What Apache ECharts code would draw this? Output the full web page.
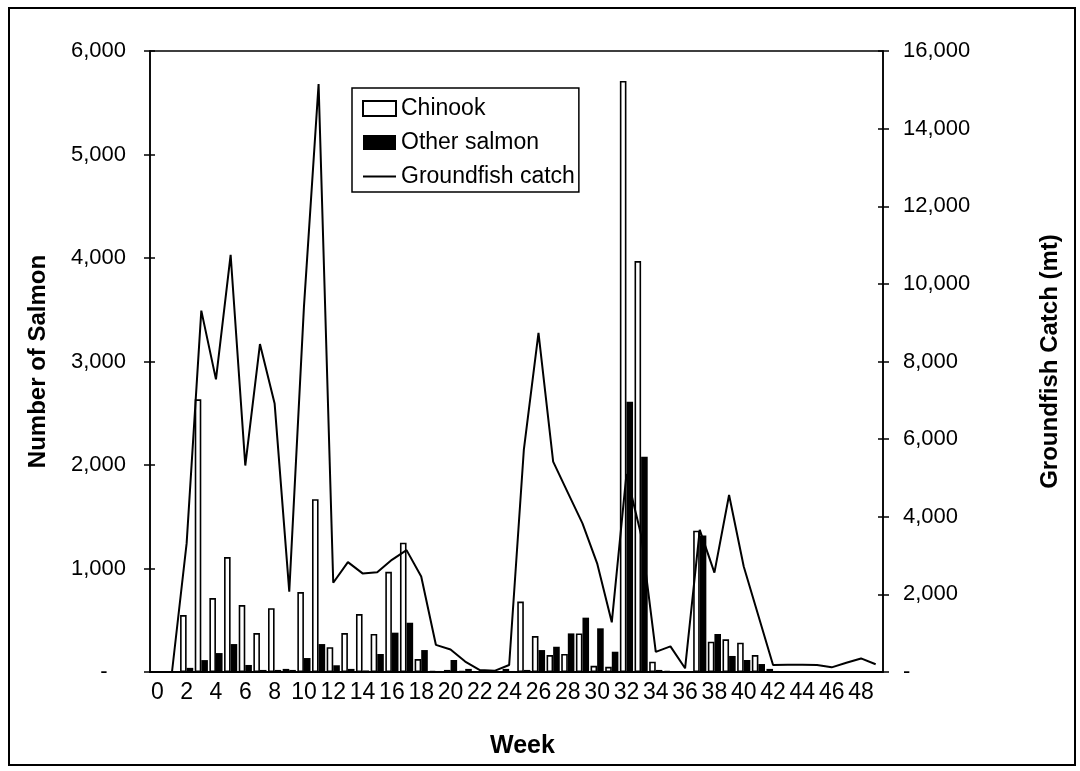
<!DOCTYPE html>
<html>
<head>
<meta charset="utf-8">
<script src="https://cdn.jsdelivr.net/npm/echarts@6/dist/echarts.min.js"></script>
<style>
  html, body { margin: 0; padding: 0; background: #fff; }
  #chart { width: 1080px; height: 771px; }
</style>
</head>
<body>
<div id="chart"></div>
<script>
// weeks on the x axis
const weeks = ['0','1','2','3','4','5','6','7','8','9','10','11','12','13','14','15','16','17','18','19',
  '20','21','22','23','24','25','26','27','28','29','30','31','32','33','34','35','36','37','38','39',
  '40','41','42','43','44','45','46','47','48','49'];

// number of salmon (left axis)
const chinook = [0, 0, 550, 2635, 714, 1110, 647, 376, 617, 30,
  772, 1670, 240, 376, 560, 367, 968, 1249, 125, 10,
  20, 10, 0, 0, 30, 680, 347, 164, 174, 373,
  60, 50, 5710, 3970, 100, 10, 5, 1365, 293, 316,
  283, 164, 30, 0, 0, 0, 0, 0, 0, 0];
const otherSalmon = [0, 0, 40, 115, 183, 270, 68, 20, 20, 20,
  135, 270, 65, 30, 15, 174, 380, 476, 212, 10,
  116, 30, 5, 0, 10, 20, 212, 244, 373, 525,
  422, 196, 2610, 2080, 20, 5, 0, 1320, 367, 155,
  116, 77, 10, 0, 0, 0, 0, 0, 0, 0];

// groundfish catch in mt (right axis)
const groundfish = [null, 0, 3320, 9310, 7540, 10750, 5320, 8450, 6920, 2070,
  9400, 15150, 2300, 2830, 2540, 2570, 2890, 3140, 2460, 700,
  580, 270, 50, 30, 180, 5720, 8740, 5420, 4620, 3830,
  2800, 1280, 5100, 3530, 520, 660, 95, 3660, 2560, 4560,
  2720, 1450, 180, 190, 190, 180, 120, 240, 350, 200];

const font = '"Liberation Sans", Arial, Helvetica, sans-serif';

function fmt(v) {
  return v === 0 ? '-' : v.toLocaleString('en-US');
}

let myChart = echarts.init(document.getElementById('chart'));
let option = {
  backgroundColor: '#fff',
  animation: false,
  textStyle: { fontFamily: font, color: '#000' },
  graphic: [
    { // outer frame round the figure
      type: 'rect',
      shape: { x: 9, y: 8, width: 1066, height: 757 },
      style: { fill: 'none', stroke: '#000', lineWidth: 2 }
    }
  ],
  grid: {
    left: 150, right: 197, top: 51, bottom: 99,
    show: true, borderColor: '#000', borderWidth: 1.5, backgroundColor: 'transparent'
  },
  legend: {
    orient: 'vertical',
    left: 352, top: 88,
    padding: [9, 4, 4, 10],
    itemGap: 11,
    itemWidth: 33, itemHeight: 15,
    borderColor: '#000', borderWidth: 1.5,
    selectedMode: false,
    textStyle: { fontSize: 23, fontFamily: font, color: '#000' },
    data: [
      { name: 'Chinook', icon: 'rect' },
      { name: 'Other salmon', icon: 'rect' },
      { name: 'Groundfish catch', icon: 'path://M0,0 L34,0 L34,2 L0,2 Z' }
    ]
  },
  xAxis: {
    type: 'category',
    data: weeks,
    name: 'Week',
    nameLocation: 'middle',
    nameGap: 62,
    nameTextStyle: { fontSize: 25, fontWeight: 'bold', color: '#000', padding: [0, 0, 0, 12] },
    axisLine: { lineStyle: { color: '#000', width: 2 } },
    axisTick: { interval: 0, length: 5, lineStyle: { color: '#000' } },
    axisLabel: { interval: 1, fontSize: 23, color: '#000', margin: 9 },
    splitLine: { show: false }
  },
  yAxis: [
    {
      type: 'value', position: 'left', min: 0, max: 6000, interval: 1000,
      name: 'Number of Salmon', nameLocation: 'middle', nameGap: 100, nameRotate: 90,
      nameTextStyle: { fontSize: 24, fontWeight: 'bold', color: '#000' },
      axisLine: { show: true, lineStyle: { color: '#000', width: 1.5 } },
      axisTick: { show: true, length: 6, lineStyle: { color: '#000', width: 1.5 } },
      axisLabel: {
        fontSize: 22, color: '#000', margin: 24,
        formatter: v => v === 0 ? '-   ' : fmt(v)
      },
      splitLine: { show: false }
    },
    {
      type: 'value', position: 'right', min: 0, max: 16000, interval: 2000,
      name: 'Groundfish Catch (mt)', nameLocation: 'middle', nameGap: 155, nameRotate: 90,
      nameTextStyle: { fontSize: 24, fontWeight: 'bold', color: '#000' },
      axisLine: { show: true, lineStyle: { color: '#000', width: 1.5 } },
      axisTick: { show: true, length: 6, lineStyle: { color: '#000', width: 1.5 } },
      axisLabel: { fontSize: 22, color: '#000', margin: 20, formatter: fmt },
      splitLine: { show: false }
    },
    { // inner half of the crossing ticks, left
      type: 'value', position: 'left', min: 0, max: 6000, interval: 1000,
      axisLine: { show: false },
      axisTick: { show: true, inside: true, length: 5, lineStyle: { color: '#000', width: 1.5 } },
      axisLabel: { show: false },
      splitLine: { show: false }
    },
    { // inner half of the crossing ticks, right
      type: 'value', position: 'right', min: 0, max: 16000, interval: 2000,
      axisLine: { show: false },
      axisTick: { show: true, inside: true, length: 5, lineStyle: { color: '#000', width: 1.5 } },
      axisLabel: { show: false },
      splitLine: { show: false }
    }
  ],
  series: [
    {
      name: 'Chinook',
      type: 'bar',
      yAxisIndex: 0,
      data: chinook,
      barGap: '0%',
      barCategoryGap: '10%',
      itemStyle: { color: '#fff', borderColor: '#000', borderWidth: 1.6 }
    },
    {
      name: 'Other salmon',
      type: 'bar',
      yAxisIndex: 0,
      data: otherSalmon,
      barGap: '0%',
      barCategoryGap: '10%',
      itemStyle: { color: '#000' }
    },
    {
      name: 'Groundfish catch',
      type: 'line',
      yAxisIndex: 1,
      data: groundfish,
      symbol: 'none',
      lineStyle: { color: '#000', width: 2 },
      itemStyle: { color: '#000' }
    }
  ]
};

option && myChart.setOption(option);
</script>
</body>
</html>
